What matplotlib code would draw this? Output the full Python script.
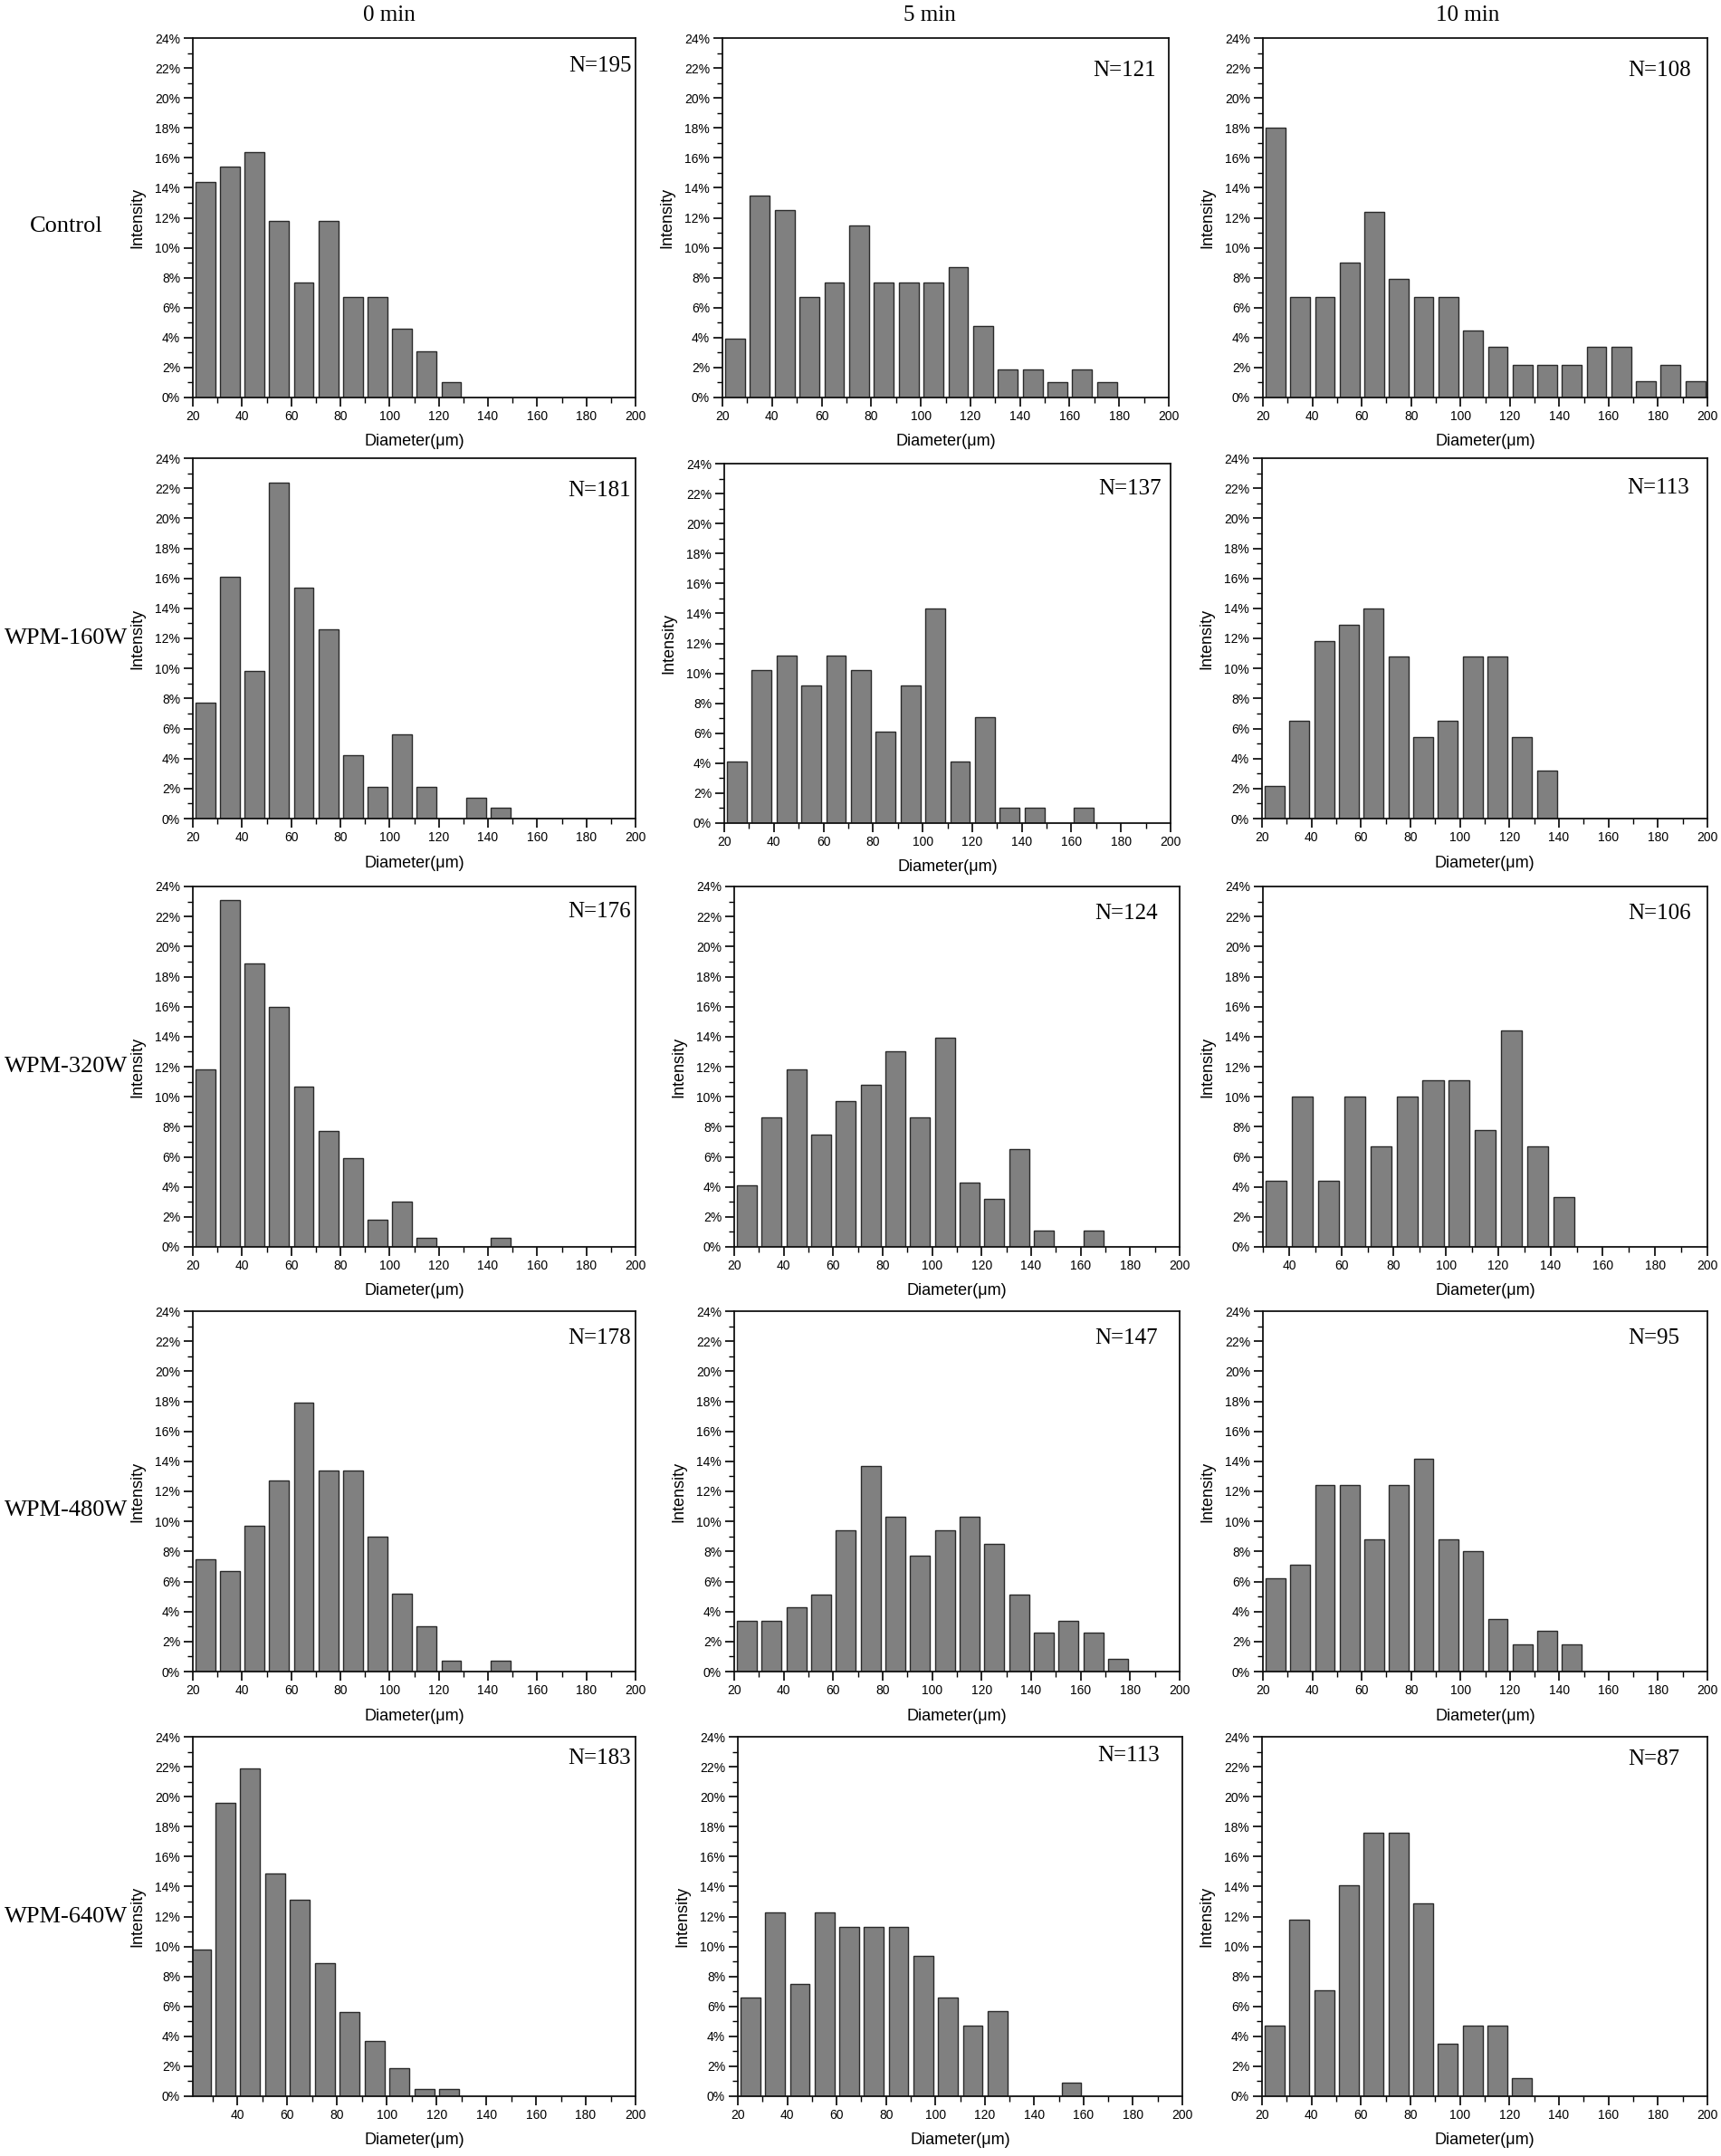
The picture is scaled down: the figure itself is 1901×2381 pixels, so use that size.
import matplotlib
matplotlib.use("Agg")
import matplotlib.pyplot as plt
from matplotlib.ticker import MultipleLocator, FuncFormatter

# ---------------- data (percent per 10 µm bin) ----------------
col_titles = ["0 min", "5 min", "10 min"]
row_labels = ["Control", "WPM-160W", "WPM-320W", "WPM-480W", "WPM-640W"]

control_0 = [14.4, 15.4, 16.4, 11.8, 7.7, 11.8, 6.7, 6.7, 4.6, 3.1, 1.0]
control_5 = [3.9, 13.5, 12.5, 6.7, 7.7, 11.5, 7.7, 7.7, 7.7, 8.7, 4.8, 1.9, 1.9, 1.0, 1.9, 1.0]
control_10 = [18.0, 6.7, 6.7, 9.0, 12.4, 7.9, 6.7, 6.7, 4.5, 3.4, 2.2, 2.2, 2.2, 3.4, 3.4, 1.1, 2.2, 1.1]

wpm160_0 = [7.7, 16.1, 9.8, 22.4, 15.4, 12.6, 4.2, 2.1, 5.6, 2.1, 0, 1.4, 0.7]
wpm160_5 = [4.1, 10.2, 11.2, 9.2, 11.2, 10.2, 6.1, 9.2, 14.3, 4.1, 7.1, 1.0, 1.0, 0, 1.0]
wpm160_10 = [2.2, 6.5, 11.8, 12.9, 14.0, 10.8, 5.4, 6.5, 10.8, 10.8, 5.4, 3.2]

wpm320_0 = [11.8, 23.1, 18.9, 16.0, 10.7, 7.7, 5.9, 1.8, 3.0, 0.6, 0, 0, 0.6]
wpm320_5 = [4.1, 8.6, 11.8, 7.5, 9.7, 10.8, 13.0, 8.6, 13.9, 4.3, 3.2, 6.5, 1.1, 0, 1.1]
wpm320_10 = [4.4, 10.0, 4.4, 10.0, 6.7, 10.0, 11.1, 11.1, 7.8, 14.4, 6.7, 3.3]

wpm480_0 = [7.5, 6.7, 9.7, 12.7, 17.9, 13.4, 13.4, 9.0, 5.2, 3.0, 0.75, 0, 0.75]
wpm480_5 = [3.4, 3.4, 4.3, 5.1, 9.4, 13.7, 10.3, 7.7, 9.4, 10.3, 8.5, 5.1, 2.6, 3.4, 2.6, 0.85]
wpm480_10 = [6.2, 7.1, 12.4, 12.4, 8.8, 12.4, 14.2, 8.8, 8.0, 3.5, 1.8, 2.7, 1.8]

wpm640_0 = [9.8, 19.6, 21.9, 14.9, 13.1, 8.9, 5.6, 3.7, 1.9, 0.5, 0.5]
wpm640_5 = [6.6, 12.3, 7.5, 12.3, 11.3, 11.3, 11.3, 9.4, 6.6, 4.7, 5.7, 0, 0, 0.9]
wpm640_10 = [4.7, 11.8, 7.1, 14.1, 17.6, 17.6, 12.9, 3.5, 4.7, 4.7, 1.2]

panel_values = [
    [control_0, control_5, control_10],
    [wpm160_0, wpm160_5, wpm160_10],
    [wpm320_0, wpm320_5, wpm320_10],
    [wpm480_0, wpm480_5, wpm480_10],
    [wpm640_0, wpm640_5, wpm640_10],
]
panel_n = [
    [195, 121, 108],
    [181, 137, 113],
    [176, 124, 106],
    [178, 147, 95],
    [183, 113, 87],
]
# first bin edge of each panel (µm) and lower x-limit
bin_start = [
    [20, 20, 20],
    [20, 20, 20],
    [20, 20, 30],
    [20, 20, 20],
    [20, 20, 20],
]
x_min = [
    [20, 20, 20],
    [20, 20, 20],
    [20, 20, 30],
    [20, 20, 20],
    [22, 20, 20],
]
bin_width = 10

# ---------------- layout (pixels) ----------------
W, H = 1901, 2381
col_left = [[213, 798, 1395], [213, 800, 1394], [213, 811, 1395], [213, 811, 1395], [213, 815, 1394]]
col_right = [[702, 1291, 1886], [702, 1293, 1886], [702, 1303, 1886], [702, 1303, 1886], [702, 1306, 1886]]
row_top = [[42, 42, 42], [506, 512, 506], [979, 979, 979], [1448, 1448, 1448], [1918, 1918, 1918]]
row_bot = [[439, 439, 439], [904, 909, 904], [1377, 1377, 1377], [1846, 1846, 1846], [2315, 2315, 2315]]
n_right = [[698, 1277, 1868], [697, 1283, 1866], [697, 1279, 1868], [697, 1279, 1855], [697, 1281, 1855]]
n_dy = [[31, 36, 36], [36, 28, 33], [28, 30, 30], [30, 30, 30], [24, 21, 25]]
title_x = [430, 1027, 1621]
title_y = 17
row_label_x = 73
row_label_y = [250, 705, 1178, 1668, 2117]

sans = ["Liberation Sans", "DejaVu Sans"]
serif = ["Liberation Serif", "DejaVu Serif"]
plt.rcParams["font.family"] = sans

fig = plt.figure(figsize=(W / 100, H / 100), dpi=100)
fig.patch.set_facecolor("white")

pct = FuncFormatter(lambda v, p: f"{v:.0f}%")

for r in range(5):
    for c in range(3):
        L, R = col_left[r][c], col_right[r][c]
        T, B = row_top[r][c], row_bot[r][c]
        ax = fig.add_axes([L / W, 1 - B / H, (R - L) / W, (B - T) / H])
        vals = panel_values[r][c]
        centers = [bin_start[r][c] + bin_width * i + bin_width / 2 + 0.1 for i in range(len(vals))]
        ax.bar(centers, vals, width=8, color="#808080", edgecolor="#2a2a2a", linewidth=1.0, zorder=2)
        ax.set_xlim(x_min[r][c], 200)
        ax.set_ylim(0, 24)
        ax.xaxis.set_major_locator(MultipleLocator(20))
        ax.xaxis.set_minor_locator(MultipleLocator(10))
        ax.yaxis.set_major_locator(MultipleLocator(2))
        ax.yaxis.set_minor_locator(MultipleLocator(1))
        ax.yaxis.set_major_formatter(pct)
        ax.tick_params(which="major", direction="out", length=7, width=1.2, labelsize=10, pad=3,
                       top=False, right=False)
        ax.tick_params(which="minor", direction="out", length=4, width=1.0, top=False, right=False)
        for sp in ax.spines.values():
            sp.set_linewidth(1.3)
            sp.set_color("#111111")
        # N annotation
        fig.text(n_right[r][c] / W, 1 - (T + n_dy[r][c]) / H, f"N={panel_n[r][c]}",
                 ha="right", va="center", fontsize=18, family=serif)
        # axis labels
        fig.text((L - 61) / W, 1 - ((T + B) / 2) / H, "Intensity", rotation=90,
                 ha="center", va="center", fontsize=13)
        fig.text(((L + R) / 2) / W, 1 - (B + 49) / H, "Diameter(μm)",
                 ha="center", va="center", fontsize=13)

for c in range(3):
    fig.text(title_x[c] / W, 1 - title_y / H, col_titles[c], ha="center", va="center",
             fontsize=18, family=serif)
for r in range(5):
    fig.text(row_label_x / W, 1 - row_label_y[r] / H, row_labels[r], ha="center", va="center",
             fontsize=19, family=serif)

fig.savefig("out.png", dpi=100, facecolor="white")
